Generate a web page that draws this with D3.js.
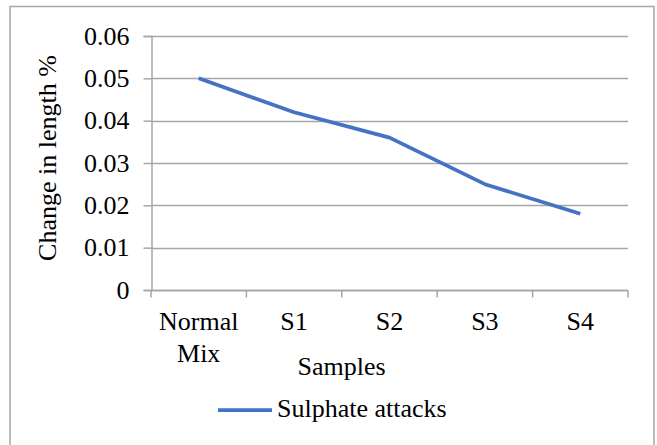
<!DOCTYPE html>
<html><head><meta charset="utf-8">
<script src="https://cdn.jsdelivr.net/npm/d3@7"></script>
<style>body{margin:0;background:#fff}svg{display:block}svg text{font-family:"Liberation Serif",serif !important;fill:#000}</style>
</head><body>
<svg id="c" width="657" height="445"></svg>
<script>
const categories = [["Normal","Mix"],["S1"],["S2"],["S3"],["S4"]];
const values = [0.05, 0.042, 0.036, 0.025, 0.018];
const yTicks = [0, 0.01, 0.02, 0.03, 0.04, 0.05, 0.06];
const seriesName = "Sulphate attacks";
const FONT = "'Liberation Serif', serif";

const svg = d3.select("#c");
svg.append("rect").attr("x",10).attr("y",6.5).attr("width",644).attr("height",445)
  .attr("fill","#fff").attr("stroke","#a6a6a6").attr("stroke-width",1.5);

const x0 = 151, x1 = 628, yTop = 36, yBot = 290;
const x = d3.scaleBand().domain(d3.range(categories.length)).range([x0,x1]);
const y = d3.scaleLinear().domain([0,0.06]).range([yBot,yTop]);

// gridlines
svg.append("g").selectAll("line").data(yTicks).join("line")
  .attr("x1",x0).attr("x2",x1).attr("y1",d=>Math.round(y(d))+0.5).attr("y2",d=>Math.round(y(d))+0.5)
  .attr("stroke","#a6a6a6").attr("stroke-width",1.5);

// y axis
const ya = svg.append("g").attr("transform",`translate(${x0+0.5},0)`)
  .call(d3.axisLeft(y).tickValues(yTicks).tickSize(8).tickPadding(14).tickFormat(d=>d===0?"0":d3.format(".2f")(d)));
ya.attr("font-family",null);
ya.select(".domain").attr("stroke","#a6a6a6").attr("stroke-width",1.5);
ya.selectAll(".tick line").attr("stroke","#a6a6a6").attr("stroke-width",1.5);
ya.selectAll("text").style("font-size","26px").style("font-family",FONT).attr("fill","#000");

// x axis
const xa = svg.append("g").attr("transform",`translate(0,${yBot+0.5})`);
xa.append("line").attr("x1",x0).attr("x2",x1).attr("stroke","#a6a6a6").attr("stroke-width",1.5);
const bounds = d3.range(categories.length+1).map(i=> i<categories.length ? x(i) : x1);
xa.selectAll("line.t").data(bounds).join("line").attr("class","t")
  .attr("x1",d=>d).attr("x2",d=>d).attr("y1",0).attr("y2",7).attr("stroke","#a6a6a6").attr("stroke-width",1.5);
categories.forEach((lines,i)=>{
  const t = xa.append("text").attr("text-anchor","middle").style("font-size","26px").style("font-family",FONT)
    .attr("x",x(i)+x.bandwidth()/2).attr("y",39.5);
  lines.forEach((l,j)=>t.append("tspan").attr("x",x(i)+x.bandwidth()/2).attr("dy",j?32:0).text(l));
});

// line
const line = d3.line().x((d,i)=>x(i)+x.bandwidth()/2).y(d=>y(d));
svg.append("path").datum(values).attr("d",line).attr("fill","none")
  .attr("stroke","#4472C4").attr("stroke-width",3.75).attr("stroke-linejoin","round");

// axis titles
svg.append("text").attr("x",341.5).attr("y",375).attr("text-anchor","middle").style("font-size","26px").style("font-family",FONT).text("Samples");
svg.append("text").attr("transform","translate(56,158) rotate(-90)").attr("text-anchor","middle").style("font-size","26px").style("font-family",FONT).text("Change in length %");

// legend
svg.append("line").attr("x1",218).attr("x2",272).attr("y1",410).attr("y2",410).attr("stroke","#4472C4").attr("stroke-width",3.75);
svg.append("text").attr("x",277).attr("y",417).style("font-size","26px").style("font-family",FONT).text(seriesName);
</script>
</body></html>
